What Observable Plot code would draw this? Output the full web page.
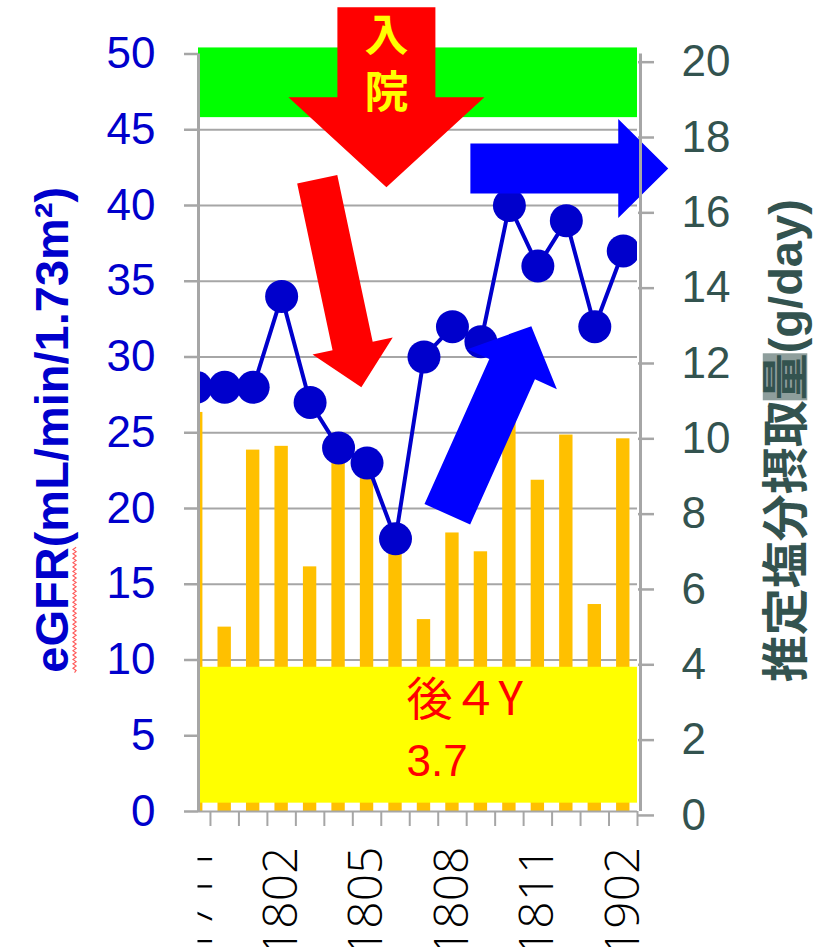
<!DOCTYPE html>
<html>
<head>
<meta charset="utf-8">
<script src="https://cdn.jsdelivr.net/npm/d3@7"></script>
<script src="https://cdn.jsdelivr.net/npm/@observablehq/plot@0.6"></script>
<style>
  html, body { margin: 0; padding: 0; background: #fff; }
  #chart svg { display: block; }
</style>
</head>
<body>
<div id="chart"></div>
<script>
// Months (YYMM), one band each
const months = ["1711","1712","1801","1802","1803","1804","1805","1806",
                "1807","1808","1809","1810","1811","1812","1901","1902"];
// eGFR (mL/min/1.73m²), left axis
const egfr = [28, 28, 28, 34, 27, 24, 23, 18, 30, 32, 31, 40, 36, 39, 32, 37];
// Estimated salt intake (g/day), right axis
const salt = [10.7, 5.0, 9.7, 9.8, 6.6, 9.6, 9.0, 7.3, 5.2, 7.5, 7.0, 10.8, 8.9, 10.1, 5.6, 10.0];

const egfrTicks = d3.range(0, 51, 5);
const saltTicks = d3.range(0, 21, 2);
const labelledMonths = d3.range(0, months.length, 3);

const leftTitle = "eGFR(mL/min/1.73m²)";
const rightTitle = "推定塩分摂取量(g/day)";
const admitText = "入院";
const noteLines = ["後４Y", "3.7"];

// ---- layout & styling ----
const W = 815, H = 947;
const xDomain = [0.08, 15.5];          // view starts just right of the first month's centre
const yDomain = [0, 50];
const gridColor = "#a6a6a6";
const blue = "#0000cc";
const slate = "#33534f";
const latin = "'Liberation Sans', Arial, sans-serif";
const cjk = "'Liberation Sans', 'Noto Sans CJK JP', sans-serif";
const barWidth = 0.47;                 // fraction of a month

// salt (g/day) expressed in eGFR units for the shared y scale
const saltToEgfr = s => s * 2.486 - 0.26;

const rows = months.map((m, i) => ({i, month: m, egfr: egfr[i], salt: salt[i]}));

// scales reused for the arrow geometry
const margins = {marginLeft: 198, marginRight: 178, marginTop: 53.5, marginBottom: 136};
const sx = Plot.scale({x: {domain: xDomain, range: [margins.marginLeft, W - margins.marginRight]}});
const sy = Plot.scale({y: {domain: yDomain, range: [H - margins.marginBottom, margins.marginTop]}});

// block arrow outline: from/to in data units, widths in pixels
function blockArrow({from, to, shaft, head, headLength}) {
  const x0 = sx.apply(from[0]), y0 = sy.apply(from[1]);
  const x1 = sx.apply(to[0]), y1 = sy.apply(to[1]);
  const len = Math.hypot(x1 - x0, y1 - y0);
  const ux = (x1 - x0) / len, uy = (y1 - y0) / len;   // along
  const px = -uy, py = ux;                             // across
  const bx = x1 - ux * headLength, by = y1 - uy * headLength;
  const s = shaft / 2, h = head / 2;
  const pts = [
    [x0 + px * s, y0 + py * s],
    [bx + px * s, by + py * s],
    [bx + px * h, by + py * h],
    [x1, y1],
    [bx - px * h, by - py * h],
    [bx - px * s, by - py * s],
    [x0 - px * s, y0 - py * s]
  ];
  return pts.map(([x, y]) => ({x: sx.invert(x), y: sy.invert(y)}));
}

// annotation arrows
const arrows = [
  {from: [6.68, 53.09], to: [6.68, 41.21], shaft: 98, head: 196, headLength: 90, color: "#ff0000"},
  {from: [4.25, 41.73], to: [5.80, 28.01], shaft: 41, head: 82, headLength: 42, color: "#ff0000"},
  {from: [8.82, 19.62], to: [11.77, 32.03], shaft: 50, head: 98, headLength: 47, color: "#0000ff"},
  {from: [9.63, 42.44], to: [16.58, 42.44], shaft: 50, head: 99, headLength: 50, color: "#0000ff"}
];

// highlighted eGFR bands
const bands = [
  {y1: 45.8, y2: 50.4, color: "#00ff00"},
  {y1: 0.55, y2: 9.52, color: "#ffff00"}
];

const chart = Plot.plot({
  width: W,
  height: H,
  ...margins,
  x: {type: "linear", domain: xDomain},
  y: {type: "linear", domain: yDomain},
  style: {background: "#fff", overflow: "visible"},
  marks: [
    // horizontal grid
    Plot.ruleY(egfrTicks.filter(d => d > 0), {stroke: gridColor, strokeWidth: 2}),
    // salt bars
    Plot.rect(rows, {
      x1: d => d.i - barWidth / 2, x2: d => d.i + barWidth / 2,
      y1: 0, y2: d => saltToEgfr(d.salt),
      fill: "#ffc000", clip: true
    }),
    // eGFR line and points
    Plot.line(rows, {x: "i", y: "egfr", stroke: blue, strokeWidth: 4, clip: true}),
    Plot.dot(rows, {x: "i", y: "egfr", r: 16.5, fill: blue, stroke: "none", clip: true}),
    // bands
    Plot.rect(bands, {x1: xDomain[0], x2: xDomain[1], y1: "y1", y2: "y2", fill: d => d.color}),
    Plot.text([noteLines[0]], {x: 7.39, y: 7.33, textAnchor: "start", fontSize: 46,
      fontFamily: "'Noto Sans CJK JP', sans-serif", fill: "#ff0000"}),
    Plot.text([noteLines[1]], {x: 7.39, y: 3.3, textAnchor: "start", fontSize: 44,
      fontFamily: latin, fill: "#ff0000"}),
    // arrows
    ...arrows.map(a => Plot.line(blockArrow(a), {x: "x", y: "y", fill: a.color, stroke: "none", curve: "linear-closed"})),
    // admission label, set vertically inside the red arrow
    Plot.text([admitText], {x: 6.68, y: 49.0, lineAnchor: "bottom", fontSize: 44, fontWeight: "bold",
      fontFamily: "'Noto Sans CJK JP', sans-serif", fill: "#ffff00", className: "admit-label"}),
    // frame lines
    Plot.ruleY([0], {stroke: gridColor, strokeWidth: 2}),
    Plot.ruleX([xDomain[0]], {stroke: gridColor, strokeWidth: 3}),
    Plot.ruleX([xDomain[1]], {stroke: gridColor, strokeWidth: 3, dx: 3}),
    // left axis
    Plot.axisY({ticks: egfrTicks, anchor: "left", tickSize: 14, tickPadding: 29, label: null,
      stroke: gridColor, strokeWidth: 2.5, fill: blue, fontSize: 44, fontFamily: latin}),
    // right axis (salt)
    Plot.axisY(saltTicks, {y: saltToEgfr, tickFormat: d => d, anchor: "right", tickSize: 16, tickPadding: 28,
      label: null, stroke: gridColor, strokeWidth: 2.5, fill: slate, fontSize: 44, fontFamily: latin}),
    // bottom axis: band edges, then month labels
    Plot.axisX({ticks: d3.range(0.5, months.length, 1), tickSize: 15, tickFormat: () => "", label: null,
      stroke: gridColor, strokeWidth: 2}),
    Plot.axisX({ticks: labelledMonths, tickFormat: i => months[i], tickSize: 0, tickPadding: 35,
      tickRotate: -90, label: null, fill: "#000", fontSize: 48, fontWeight: 300,
      fontFamily: "'Open Sans', 'Liberation Sans', sans-serif"}),
    // axis titles
    Plot.text([leftTitle], {frameAnchor: "left", textAnchor: "middle", dx: -146, dy: -3, rotate: -90,
      fontSize: 47, fontWeight: "bold", fill: blue, fontFamily: latin}),
    Plot.text([rightTitle], {frameAnchor: "right", textAnchor: "middle", dx: 149, dy: 8, rotate: -90,
      fontSize: 47, fontWeight: "bold", fill: slate, fontFamily: cjk})
  ]
});

document.getElementById("chart").append(chart);

const ns = "http://www.w3.org/2000/svg";

// vertical writing for the admission label
const at = [...chart.querySelectorAll("text")].find(t => t.textContent === admitText);
if (at) {
  at.style.writingMode = "vertical-rl";
  at.style.letterSpacing = "13px";
}

// the first month label is cut at the frame's left edge
const defs = document.createElementNS(ns, "defs");
const cp = document.createElementNS(ns, "clipPath");
cp.setAttribute("id", "month-label-clip");
const cr = document.createElementNS(ns, "rect");
cr.setAttribute("x", margins.marginLeft - 1);
cr.setAttribute("y", 0);
cr.setAttribute("width", W);
cr.setAttribute("height", H);
cp.append(cr); defs.append(cp); chart.prepend(defs);
chart.querySelectorAll('g[aria-label="x-axis tick label"]').forEach(g => g.setAttribute("clip-path", "url(#month-label-clip)"));

// spell-check squiggle under "eGFR"
const lt = [...chart.querySelectorAll("text")].find(t => t.textContent === leftTitle);
if (lt) {
  const a = lt.getStartPositionOfChar(0);
  const b = lt.getEndPositionOfChar(3);
  const y0 = a.y + 7, amp = 1.6, step = 2.2;
  let d = `M${a.x},${y0}`;
  for (let x = a.x, k = 0; x < b.x; x += step, k++) d += `L${x + step},${y0 + (k % 2 ? -amp : amp)}`;
  const p = document.createElementNS(ns, "path");
  p.setAttribute("d", d);
  p.setAttribute("fill", "none");
  p.setAttribute("stroke", "#ff5a5a");
  p.setAttribute("stroke-width", 1.1);
  if (lt.getAttribute("transform")) p.setAttribute("transform", lt.getAttribute("transform"));
  lt.parentNode.append(p);
}

// selection highlight behind "量"
const rt = [...chart.querySelectorAll("text")].find(t => t.textContent === rightTitle);
if (rt) {
  const k = rightTitle.indexOf("量");
  const b = rt.getExtentOfChar(k);
  const r = document.createElementNS(ns, "rect");
  r.setAttribute("x", b.x); r.setAttribute("y", b.y + b.height * 0.08);
  r.setAttribute("width", b.width); r.setAttribute("height", b.height * 0.84);
  r.setAttribute("fill", "#8e9e9c");
  if (rt.getAttribute("transform")) r.setAttribute("transform", rt.getAttribute("transform"));
  rt.parentNode.insertBefore(r, rt);
}
</script>
</body>
</html>
